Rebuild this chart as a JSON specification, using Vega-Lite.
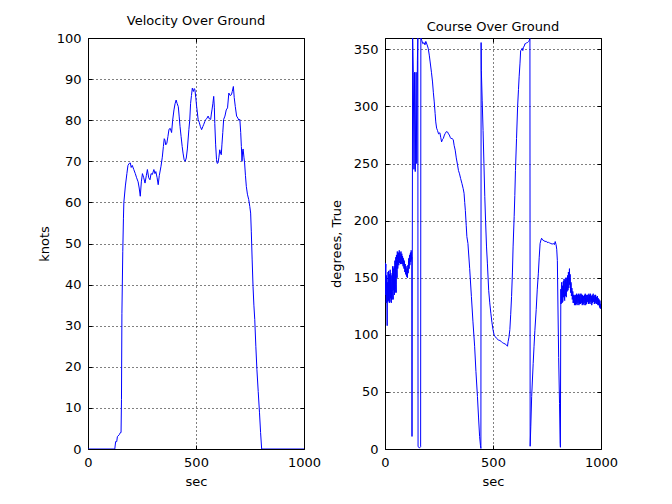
{
  "$schema": "https://vega.github.io/schema/vega-lite/v6.json",
  "background": "white",
  "padding": {"left": 37, "top": 14, "right": 5, "bottom": 5},
  "datasets": {
    "velocity": [
      {"sec": 0, "knots": 0}, {"sec": 124, "knots": 0}, {"sec": 128, "knots": 1.8}, {"sec": 133, "knots": 1.8},
      {"sec": 136, "knots": 3.0}, {"sec": 145, "knots": 3.5}, {"sec": 150, "knots": 4.0}, {"sec": 153, "knots": 4.0},
      {"sec": 155, "knots": 12}, {"sec": 157, "knots": 33}, {"sec": 161, "knots": 48}, {"sec": 164, "knots": 56},
      {"sec": 166, "knots": 60}, {"sec": 173, "knots": 64}, {"sec": 180, "knots": 67}, {"sec": 185, "knots": 69},
      {"sec": 191, "knots": 69.5}, {"sec": 196, "knots": 69.6}, {"sec": 200, "knots": 68.5}, {"sec": 205, "knots": 69},
      {"sec": 212, "knots": 68}, {"sec": 219, "knots": 67}, {"sec": 225, "knots": 66}, {"sec": 232, "knots": 65},
      {"sec": 237, "knots": 63.5}, {"sec": 242, "knots": 61.5}, {"sec": 247, "knots": 65}, {"sec": 252, "knots": 67},
      {"sec": 258, "knots": 66}, {"sec": 264, "knots": 64.7}, {"sec": 270, "knots": 66.5}, {"sec": 275, "knots": 68},
      {"sec": 281, "knots": 66}, {"sec": 287, "knots": 65.5}, {"sec": 292, "knots": 67}, {"sec": 298, "knots": 66.8},
      {"sec": 305, "knots": 68}, {"sec": 310, "knots": 67}, {"sec": 314, "knots": 67.5}, {"sec": 320, "knots": 66},
      {"sec": 325, "knots": 64.3}, {"sec": 330, "knots": 66.5}, {"sec": 338, "knots": 68.8}, {"sec": 344, "knots": 71},
      {"sec": 349, "knots": 73.6}, {"sec": 353, "knots": 75.5}, {"sec": 356, "knots": 75.2}, {"sec": 360, "knots": 74},
      {"sec": 365, "knots": 74.4}, {"sec": 370, "knots": 76}, {"sec": 375, "knots": 77.8}, {"sec": 381, "knots": 78},
      {"sec": 387, "knots": 77}, {"sec": 392, "knots": 80}, {"sec": 398, "knots": 82.5}, {"sec": 403, "knots": 84},
      {"sec": 408, "knots": 84.9}, {"sec": 413, "knots": 84}, {"sec": 418, "knots": 83.3}, {"sec": 422, "knots": 81},
      {"sec": 426, "knots": 78.5}, {"sec": 431, "knots": 76}, {"sec": 436, "knots": 73.6}, {"sec": 440, "knots": 72},
      {"sec": 445, "knots": 70.4}, {"sec": 450, "knots": 70}, {"sec": 455, "knots": 70.8}, {"sec": 460, "knots": 73},
      {"sec": 467, "knots": 77.7}, {"sec": 471, "knots": 80}, {"sec": 475, "knots": 84.1}, {"sec": 479, "knots": 86},
      {"sec": 483, "knots": 87.8}, {"sec": 488, "knots": 87}, {"sec": 492, "knots": 87.7}, {"sec": 495, "knots": 87.4},
      {"sec": 499, "knots": 85.5}, {"sec": 503, "knots": 83.3}, {"sec": 506, "knots": 82}, {"sec": 510, "knots": 80.1},
      {"sec": 515, "knots": 79.5}, {"sec": 520, "knots": 78.5}, {"sec": 526, "knots": 77.7}, {"sec": 532, "knots": 78.5},
      {"sec": 536, "knots": 79}, {"sec": 541, "knots": 79.7}, {"sec": 546, "knots": 80.2}, {"sec": 551, "knots": 80.5},
      {"sec": 556, "knots": 81}, {"sec": 562, "knots": 80.3}, {"sec": 568, "knots": 80.2}, {"sec": 571, "knots": 81.5},
      {"sec": 574, "knots": 82.5}, {"sec": 578, "knots": 84}, {"sec": 582, "knots": 85.8}, {"sec": 585, "knots": 83},
      {"sec": 587, "knots": 79.2}, {"sec": 591, "knots": 74}, {"sec": 595, "knots": 70.4}, {"sec": 598, "knots": 69.5},
      {"sec": 602, "knots": 69.6}, {"sec": 606, "knots": 71}, {"sec": 610, "knots": 72.8}, {"sec": 614, "knots": 72},
      {"sec": 617, "knots": 71.6}, {"sec": 620, "knots": 74}, {"sec": 624, "knots": 77}, {"sec": 628, "knots": 80.2},
      {"sec": 634, "knots": 81}, {"sec": 640, "knots": 82.5}, {"sec": 646, "knots": 83}, {"sec": 652, "knots": 86.6},
      {"sec": 658, "knots": 86}, {"sec": 664, "knots": 86.2}, {"sec": 668, "knots": 87}, {"sec": 673, "knots": 88.2},
      {"sec": 677, "knots": 85.5}, {"sec": 682, "knots": 83.3}, {"sec": 688, "knots": 81}, {"sec": 694, "knots": 80.5},
      {"sec": 698, "knots": 80}, {"sec": 703, "knots": 80.2}, {"sec": 707, "knots": 77}, {"sec": 710, "knots": 73.6},
      {"sec": 713, "knots": 70}, {"sec": 716, "knots": 72.5}, {"sec": 718, "knots": 73}, {"sec": 722, "knots": 71},
      {"sec": 725, "knots": 69.6}, {"sec": 729, "knots": 66.5}, {"sec": 733, "knots": 63.9}, {"sec": 738, "knots": 62},
      {"sec": 744, "knots": 60.7}, {"sec": 749, "knots": 59}, {"sec": 753, "knots": 57.4}, {"sec": 756, "knots": 53},
      {"sec": 760, "knots": 46}, {"sec": 764, "knots": 39.6}, {"sec": 768, "knots": 35}, {"sec": 772, "knots": 31.5},
      {"sec": 777, "knots": 25}, {"sec": 782, "knots": 19.3}, {"sec": 788, "knots": 14}, {"sec": 794, "knots": 8.8},
      {"sec": 799, "knots": 4}, {"sec": 804, "knots": 0}, {"sec": 1000, "knots": 0}
    ],
    "course": [
      {"sec": 0, "deg": 150}, {"sec": 1, "deg": 163}, {"sec": 2, "deg": 135}, {"sec": 3, "deg": 158}, {"sec": 4, "deg": 162}, {"sec": 5, "deg": 138}, {"sec": 6, "deg": 128},
      {"sec": 7, "deg": 152}, {"sec": 8, "deg": 145}, {"sec": 9, "deg": 131}, {"sec": 10, "deg": 108}, {"sec": 11, "deg": 146}, {"sec": 12, "deg": 140}, {"sec": 13, "deg": 129}, {"sec": 14, "deg": 155},
      {"sec": 15, "deg": 136}, {"sec": 16, "deg": 130}, {"sec": 17, "deg": 156}, {"sec": 18, "deg": 150}, {"sec": 19, "deg": 133}, {"sec": 20, "deg": 128}, {"sec": 21, "deg": 153}, {"sec": 22, "deg": 148},
      {"sec": 23, "deg": 129}, {"sec": 24, "deg": 157}, {"sec": 25, "deg": 141}, {"sec": 26, "deg": 132}, {"sec": 27, "deg": 154}, {"sec": 28, "deg": 150}, {"sec": 29, "deg": 128}, {"sec": 30, "deg": 130},
      {"sec": 31, "deg": 147}, {"sec": 32, "deg": 152}, {"sec": 33, "deg": 131}, {"sec": 34, "deg": 138}, {"sec": 35, "deg": 160}, {"sec": 36, "deg": 155}, {"sec": 37, "deg": 136}, {"sec": 38, "deg": 131},
      {"sec": 39, "deg": 158}, {"sec": 40, "deg": 148}, {"sec": 41, "deg": 139}, {"sec": 42, "deg": 160}, {"sec": 43, "deg": 145}, {"sec": 44, "deg": 135}, {"sec": 45, "deg": 161}, {"sec": 46, "deg": 165},
      {"sec": 47, "deg": 137}, {"sec": 48, "deg": 140}, {"sec": 49, "deg": 163}, {"sec": 50, "deg": 168}, {"sec": 51, "deg": 144}, {"sec": 52, "deg": 137}, {"sec": 53, "deg": 170}, {"sec": 54, "deg": 162},
      {"sec": 55, "deg": 157}, {"sec": 56, "deg": 150}, {"sec": 57, "deg": 173}, {"sec": 58, "deg": 166}, {"sec": 59, "deg": 158}, {"sec": 60, "deg": 160}, {"sec": 61, "deg": 168}, {"sec": 62, "deg": 172},
      {"sec": 63, "deg": 163}, {"sec": 64, "deg": 161}, {"sec": 65, "deg": 170}, {"sec": 66, "deg": 174}, {"sec": 67, "deg": 165}, {"sec": 68, "deg": 163}, {"sec": 69, "deg": 172}, {"sec": 70, "deg": 170},
      {"sec": 71, "deg": 164}, {"sec": 72, "deg": 162}, {"sec": 73, "deg": 169}, {"sec": 74, "deg": 173}, {"sec": 75, "deg": 162}, {"sec": 76, "deg": 165}, {"sec": 77, "deg": 170}, {"sec": 78, "deg": 171},
      {"sec": 79, "deg": 164}, {"sec": 80, "deg": 162}, {"sec": 81, "deg": 169}, {"sec": 82, "deg": 168}, {"sec": 83, "deg": 161}, {"sec": 84, "deg": 160}, {"sec": 85, "deg": 167}, {"sec": 86, "deg": 166},
      {"sec": 87, "deg": 160}, {"sec": 88, "deg": 158}, {"sec": 89, "deg": 165}, {"sec": 90, "deg": 164}, {"sec": 91, "deg": 157}, {"sec": 92, "deg": 155}, {"sec": 93, "deg": 161}, {"sec": 94, "deg": 162},
      {"sec": 95, "deg": 153}, {"sec": 96, "deg": 154}, {"sec": 97, "deg": 159}, {"sec": 98, "deg": 160}, {"sec": 99, "deg": 152}, {"sec": 100, "deg": 151}, {"sec": 101, "deg": 157}, {"sec": 102, "deg": 158},
      {"sec": 103, "deg": 151}, {"sec": 104, "deg": 150}, {"sec": 105, "deg": 159}, {"sec": 106, "deg": 161}, {"sec": 107, "deg": 154}, {"sec": 108, "deg": 156}, {"sec": 109, "deg": 165}, {"sec": 110, "deg": 167},
      {"sec": 111, "deg": 160}, {"sec": 112, "deg": 158}, {"sec": 113, "deg": 168}, {"sec": 114, "deg": 170}, {"sec": 115, "deg": 161}, {"sec": 116, "deg": 162}, {"sec": 117, "deg": 171}, {"sec": 118, "deg": 172},
      {"sec": 119, "deg": 164}, {"sec": 120, "deg": 165}, {"sec": 121, "deg": 174}, {"sec": 122, "deg": 173}, {"sec": 123, "deg": 166}, {"sec": 124, "deg": 168}, {"sec": 125, "deg": 11},
      {"sec": 128, "deg": 360}, {"sec": 131, "deg": 330}, {"sec": 134, "deg": 245}, {"sec": 137, "deg": 330},
      {"sec": 140, "deg": 243}, {"sec": 144, "deg": 330}, {"sec": 147, "deg": 250}, {"sec": 150, "deg": 340},
      {"sec": 152, "deg": 360}, {"sec": 153, "deg": 2}, {"sec": 160, "deg": 1}, {"sec": 165, "deg": 2},
      {"sec": 166, "deg": 360}, {"sec": 170, "deg": 358}, {"sec": 175, "deg": 355}, {"sec": 181, "deg": 356},
      {"sec": 185, "deg": 354}, {"sec": 189, "deg": 357}, {"sec": 195, "deg": 354}, {"sec": 200, "deg": 351},
      {"sec": 205, "deg": 345}, {"sec": 209, "deg": 339}, {"sec": 215, "deg": 330}, {"sec": 220, "deg": 321.5},
      {"sec": 224, "deg": 312}, {"sec": 228, "deg": 304}, {"sec": 232, "deg": 294}, {"sec": 235, "deg": 286.5},
      {"sec": 239, "deg": 281}, {"sec": 243, "deg": 279}, {"sec": 248, "deg": 276}, {"sec": 254, "deg": 277},
      {"sec": 258, "deg": 273}, {"sec": 262, "deg": 269}, {"sec": 266, "deg": 271}, {"sec": 270, "deg": 272},
      {"sec": 275, "deg": 275}, {"sec": 279, "deg": 276.4}, {"sec": 284, "deg": 278}, {"sec": 290, "deg": 277.6},
      {"sec": 294, "deg": 276}, {"sec": 298, "deg": 275}, {"sec": 302, "deg": 273}, {"sec": 305, "deg": 272},
      {"sec": 310, "deg": 272}, {"sec": 316, "deg": 271}, {"sec": 320, "deg": 266}, {"sec": 325, "deg": 261.8},
      {"sec": 330, "deg": 255}, {"sec": 336, "deg": 248.7}, {"sec": 340, "deg": 244}, {"sec": 345, "deg": 241},
      {"sec": 350, "deg": 237}, {"sec": 356, "deg": 232.7}, {"sec": 362, "deg": 228}, {"sec": 366, "deg": 224},
      {"sec": 369, "deg": 216}, {"sec": 372, "deg": 209}, {"sec": 376, "deg": 196}, {"sec": 379, "deg": 186},
      {"sec": 384, "deg": 180}, {"sec": 392, "deg": 158}, {"sec": 400, "deg": 133.6}, {"sec": 407, "deg": 112},
      {"sec": 415, "deg": 90}, {"sec": 421, "deg": 68}, {"sec": 428, "deg": 46}, {"sec": 433, "deg": 28},
      {"sec": 438, "deg": 11}, {"sec": 442, "deg": 3}, {"sec": 444, "deg": 0.5}, {"sec": 445, "deg": 356},
      {"sec": 446, "deg": 331.7}, {"sec": 450, "deg": 305}, {"sec": 454, "deg": 279}, {"sec": 458, "deg": 250},
      {"sec": 462, "deg": 221}, {"sec": 466, "deg": 198}, {"sec": 470, "deg": 177}, {"sec": 474, "deg": 162.8},
      {"sec": 480, "deg": 139}, {"sec": 485, "deg": 128}, {"sec": 490, "deg": 119}, {"sec": 495, "deg": 111},
      {"sec": 500, "deg": 104.5}, {"sec": 505, "deg": 100}, {"sec": 510, "deg": 98.5}, {"sec": 516, "deg": 97},
      {"sec": 525, "deg": 95.5}, {"sec": 532, "deg": 95}, {"sec": 539, "deg": 94}, {"sec": 545, "deg": 93},
      {"sec": 550, "deg": 92.5}, {"sec": 556, "deg": 92}, {"sec": 563, "deg": 91}, {"sec": 567, "deg": 90},
      {"sec": 570, "deg": 94}, {"sec": 574, "deg": 98}, {"sec": 578, "deg": 104.5}, {"sec": 582, "deg": 118},
      {"sec": 586, "deg": 133.6}, {"sec": 590, "deg": 155}, {"sec": 593, "deg": 177}, {"sec": 598, "deg": 203.5},
      {"sec": 601, "deg": 222}, {"sec": 604, "deg": 244}, {"sec": 609, "deg": 272}, {"sec": 614, "deg": 300},
      {"sec": 618, "deg": 315}, {"sec": 621, "deg": 326}, {"sec": 625, "deg": 338}, {"sec": 628, "deg": 349},
      {"sec": 632, "deg": 349.5}, {"sec": 635, "deg": 351}, {"sec": 638, "deg": 349}, {"sec": 641, "deg": 352},
      {"sec": 645, "deg": 353}, {"sec": 648, "deg": 355}, {"sec": 652, "deg": 355}, {"sec": 656, "deg": 356},
      {"sec": 660, "deg": 356}, {"sec": 665, "deg": 357}, {"sec": 668, "deg": 358}, {"sec": 671, "deg": 359.5},
      {"sec": 672, "deg": 2.4}, {"sec": 675, "deg": 20}, {"sec": 679, "deg": 46}, {"sec": 686, "deg": 75},
      {"sec": 690, "deg": 90}, {"sec": 694, "deg": 104}, {"sec": 700, "deg": 122}, {"sec": 705, "deg": 140},
      {"sec": 710, "deg": 154}, {"sec": 714, "deg": 168}, {"sec": 718, "deg": 180}, {"sec": 722, "deg": 183},
      {"sec": 725, "deg": 184.6}, {"sec": 730, "deg": 183}, {"sec": 736, "deg": 182.5}, {"sec": 741, "deg": 181.7},
      {"sec": 746, "deg": 182}, {"sec": 750, "deg": 181}, {"sec": 757, "deg": 181}, {"sec": 762, "deg": 180.5},
      {"sec": 768, "deg": 180}, {"sec": 774, "deg": 179.5}, {"sec": 780, "deg": 180}, {"sec": 784, "deg": 179},
      {"sec": 788, "deg": 181.7}, {"sec": 792, "deg": 179}, {"sec": 795, "deg": 175}, {"sec": 798, "deg": 165},
      {"sec": 801, "deg": 120}, {"sec": 804, "deg": 80}, {"sec": 808, "deg": 40}, {"sec": 811, "deg": 5},
      {"sec": 812, "deg": 1.5}, {"sec": 814, "deg": 140}, {"sec": 815, "deg": 127}, {"sec": 816, "deg": 130}, {"sec": 817, "deg": 144}, {"sec": 818, "deg": 146},
      {"sec": 819, "deg": 131}, {"sec": 820, "deg": 128}, {"sec": 821, "deg": 141}, {"sec": 822, "deg": 143}, {"sec": 823, "deg": 129}, {"sec": 824, "deg": 132}, {"sec": 825, "deg": 146}, {"sec": 826, "deg": 147},
      {"sec": 827, "deg": 133}, {"sec": 828, "deg": 135}, {"sec": 829, "deg": 149}, {"sec": 830, "deg": 145}, {"sec": 831, "deg": 131}, {"sec": 832, "deg": 130}, {"sec": 833, "deg": 144}, {"sec": 834, "deg": 148},
      {"sec": 835, "deg": 134}, {"sec": 836, "deg": 138}, {"sec": 837, "deg": 150}, {"sec": 838, "deg": 144}, {"sec": 839, "deg": 133}, {"sec": 840, "deg": 135}, {"sec": 841, "deg": 147}, {"sec": 842, "deg": 150},
      {"sec": 843, "deg": 138}, {"sec": 844, "deg": 140}, {"sec": 845, "deg": 152}, {"sec": 846, "deg": 147}, {"sec": 847, "deg": 139}, {"sec": 848, "deg": 142}, {"sec": 849, "deg": 155}, {"sec": 850, "deg": 152},
      {"sec": 851, "deg": 141}, {"sec": 852, "deg": 145}, {"sec": 853, "deg": 154}, {"sec": 854, "deg": 158}, {"sec": 855, "deg": 144}, {"sec": 856, "deg": 147}, {"sec": 857, "deg": 153}, {"sec": 858, "deg": 150},
      {"sec": 859, "deg": 137}, {"sec": 860, "deg": 140}, {"sec": 861, "deg": 146}, {"sec": 862, "deg": 145}, {"sec": 863, "deg": 134}, {"sec": 864, "deg": 136}, {"sec": 865, "deg": 141}, {"sec": 866, "deg": 140},
      {"sec": 867, "deg": 131}, {"sec": 868, "deg": 133}, {"sec": 869, "deg": 138}, {"sec": 870, "deg": 138}, {"sec": 871, "deg": 128}, {"sec": 872, "deg": 130}, {"sec": 873, "deg": 135}, {"sec": 874, "deg": 128},
      {"sec": 875, "deg": 133}, {"sec": 876, "deg": 134}, {"sec": 877, "deg": 126}, {"sec": 878, "deg": 127}, {"sec": 879, "deg": 135}, {"sec": 880, "deg": 133}, {"sec": 881, "deg": 127}, {"sec": 882, "deg": 126},
      {"sec": 883, "deg": 135}, {"sec": 884, "deg": 134}, {"sec": 885, "deg": 127}, {"sec": 886, "deg": 128}, {"sec": 887, "deg": 136}, {"sec": 888, "deg": 133}, {"sec": 889, "deg": 126}, {"sec": 890, "deg": 127},
      {"sec": 891, "deg": 134}, {"sec": 892, "deg": 135}, {"sec": 893, "deg": 128}, {"sec": 894, "deg": 129}, {"sec": 895, "deg": 136}, {"sec": 896, "deg": 132}, {"sec": 897, "deg": 127}, {"sec": 898, "deg": 126},
      {"sec": 899, "deg": 135}, {"sec": 900, "deg": 134}, {"sec": 901, "deg": 127}, {"sec": 902, "deg": 128}, {"sec": 903, "deg": 136}, {"sec": 904, "deg": 133}, {"sec": 905, "deg": 128}, {"sec": 906, "deg": 127},
      {"sec": 907, "deg": 134}, {"sec": 908, "deg": 136}, {"sec": 909, "deg": 128}, {"sec": 910, "deg": 129}, {"sec": 911, "deg": 135}, {"sec": 912, "deg": 133}, {"sec": 913, "deg": 126}, {"sec": 914, "deg": 127},
      {"sec": 915, "deg": 135}, {"sec": 916, "deg": 134}, {"sec": 917, "deg": 127}, {"sec": 918, "deg": 128}, {"sec": 919, "deg": 134}, {"sec": 920, "deg": 132}, {"sec": 921, "deg": 127}, {"sec": 922, "deg": 126},
      {"sec": 923, "deg": 133}, {"sec": 924, "deg": 135}, {"sec": 925, "deg": 128}, {"sec": 926, "deg": 129}, {"sec": 927, "deg": 136}, {"sec": 928, "deg": 133}, {"sec": 929, "deg": 126}, {"sec": 930, "deg": 127},
      {"sec": 931, "deg": 135}, {"sec": 932, "deg": 134}, {"sec": 933, "deg": 127}, {"sec": 934, "deg": 128}, {"sec": 935, "deg": 134}, {"sec": 936, "deg": 135}, {"sec": 937, "deg": 129}, {"sec": 938, "deg": 130},
      {"sec": 939, "deg": 135}, {"sec": 940, "deg": 133}, {"sec": 941, "deg": 128}, {"sec": 942, "deg": 127}, {"sec": 943, "deg": 134}, {"sec": 944, "deg": 136}, {"sec": 945, "deg": 128}, {"sec": 946, "deg": 129},
      {"sec": 947, "deg": 135}, {"sec": 948, "deg": 134}, {"sec": 949, "deg": 127}, {"sec": 950, "deg": 128}, {"sec": 951, "deg": 136}, {"sec": 952, "deg": 135}, {"sec": 953, "deg": 129}, {"sec": 954, "deg": 130},
      {"sec": 955, "deg": 134}, {"sec": 956, "deg": 133}, {"sec": 957, "deg": 126}, {"sec": 958, "deg": 127}, {"sec": 959, "deg": 135}, {"sec": 960, "deg": 134}, {"sec": 961, "deg": 128}, {"sec": 962, "deg": 129},
      {"sec": 963, "deg": 135}, {"sec": 964, "deg": 136}, {"sec": 965, "deg": 129}, {"sec": 966, "deg": 130}, {"sec": 967, "deg": 134}, {"sec": 968, "deg": 133}, {"sec": 969, "deg": 127}, {"sec": 970, "deg": 128},
      {"sec": 971, "deg": 134}, {"sec": 972, "deg": 135}, {"sec": 973, "deg": 128}, {"sec": 974, "deg": 129}, {"sec": 975, "deg": 135}, {"sec": 976, "deg": 134}, {"sec": 977, "deg": 128}, {"sec": 978, "deg": 127},
      {"sec": 979, "deg": 133}, {"sec": 980, "deg": 132}, {"sec": 981, "deg": 127}, {"sec": 982, "deg": 128}, {"sec": 983, "deg": 134}, {"sec": 984, "deg": 133}, {"sec": 985, "deg": 127}, {"sec": 986, "deg": 126},
      {"sec": 987, "deg": 132}, {"sec": 988, "deg": 131}, {"sec": 989, "deg": 126}, {"sec": 990, "deg": 127}, {"sec": 991, "deg": 131}, {"sec": 992, "deg": 129}, {"sec": 993, "deg": 124}, {"sec": 994, "deg": 125},
      {"sec": 995, "deg": 130}, {"sec": 996, "deg": 128}, {"sec": 997, "deg": 123}, {"sec": 998, "deg": 124}, {"sec": 999, "deg": 127}, {"sec": 1000, "deg": 123}
    ]
  },
  "config": {
    "font": "DejaVu Sans",
    "view": {"stroke": "black", "strokeWidth": 1},
    "axis": {
      "domain": false,
      "tickColor": "black",
      "tickSize": -4,
      "labelColor": "black",
      "labelFontSize": 13,
      "labelPadding": 11,
      "titleFontSize": 13,
      "titleFontWeight": "normal",
      "titleColor": "black",
      "gridColor": "black",
      "gridDash": [1, 3],
      "gridOpacity": 1,
      "labelFlush": false,
      "labelOverlap": false
    },
    "title": {"fontSize": 13, "fontWeight": "normal", "color": "black", "offset": 4, "frame": "group"}
  },
  "spacing": 81,
  "bounds": "flush",
  "hconcat": [
    {
      "width": 216,
      "height": 411,
      "title": "Velocity Over Ground",
      "data": {"name": "velocity"},
      "layer": [
        {
          "mark": {"type": "line", "color": "#0000ff", "strokeWidth": 1, "clip": true},
          "encoding": {
            "x": {"field": "sec", "type": "quantitative", "scale": {"domain": [0, 1000], "nice": false},
              "axis": {"title": "sec", "values": [0, 500, 1000], "format": "d", "titlePadding": 6}},
            "y": {"field": "knots", "type": "quantitative", "scale": {"domain": [0, 100], "nice": false},
              "axis": {"title": "knots", "values": [0, 10, 20, 30, 40, 50, 60, 70, 80, 90, 100], "titlePadding": 5}}
          }
        },
        {
          "mark": {"type": "line", "opacity": 0},
          "encoding": {
            "x": {"field": "sec", "type": "quantitative", "scale": {"domain": [0, 1000], "nice": false},
              "axis": {"orient": "top", "title": null, "labels": false, "grid": false, "values": [0, 500, 1000]}},
            "y": {"field": "knots", "type": "quantitative", "scale": {"domain": [0, 100], "nice": false},
              "axis": {"orient": "right", "title": null, "labels": false, "grid": false, "values": [0, 10, 20, 30, 40, 50, 60, 70, 80, 90, 100]}}
          }
        }
      ],
      "resolve": {"axis": {"x": "independent", "y": "independent"}}
    },
    {
      "width": 216,
      "height": 411,
      "title": "Course Over Ground",
      "data": {"name": "course"},
      "layer": [
        {
          "mark": {"type": "line", "color": "#0000ff", "strokeWidth": 1, "clip": true},
          "encoding": {
            "x": {"field": "sec", "type": "quantitative", "scale": {"domain": [0, 1000], "nice": false},
              "axis": {"title": "sec", "values": [0, 500, 1000], "format": "d", "titlePadding": 6}},
            "y": {"field": "deg", "type": "quantitative", "scale": {"domain": [0, 360], "nice": false},
              "axis": {"title": "degrees, True", "values": [0, 50, 100, 150, 200, 250, 300, 350], "titlePadding": 10}}
          }
        },
        {
          "mark": {"type": "line", "opacity": 0},
          "encoding": {
            "x": {"field": "sec", "type": "quantitative", "scale": {"domain": [0, 1000], "nice": false},
              "axis": {"orient": "top", "title": null, "labels": false, "grid": false, "values": [0, 500, 1000]}},
            "y": {"field": "deg", "type": "quantitative", "scale": {"domain": [0, 360], "nice": false},
              "axis": {"orient": "right", "title": null, "labels": false, "grid": false, "values": [0, 50, 100, 150, 200, 250, 300, 350]}}
          }
        }
      ],
      "resolve": {"axis": {"x": "independent", "y": "independent"}}
    }
  ]
}
